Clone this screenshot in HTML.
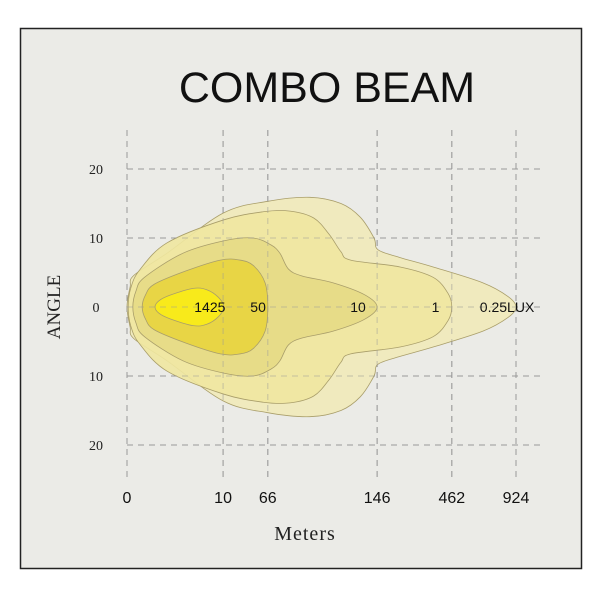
<!DOCTYPE html>
<html><head><meta charset="utf-8">
<style>
html,body{margin:0;padding:0;background:#fff;}
svg{display:block;}
</style></head>
<body>
<svg id="chart" width="600" height="600" viewBox="0 0 600 600" xmlns="http://www.w3.org/2000/svg">
<rect x="20.5" y="28.5" width="561" height="540" fill="#ebebe7" stroke="#222" stroke-width="1.5"/>
<text x="327" y="102" text-anchor="middle" font-family="Liberation Sans, sans-serif" font-size="43" fill="#111">COMBO  BEAM</text>
<g id="grid"></g>
<g id="contours"></g>
<g id="labels"></g>
<text transform="translate(60,307) rotate(-90)" text-anchor="middle" font-family="Liberation Serif, serif" font-size="19" fill="#222">ANGLE</text>
<text x="305" y="540" text-anchor="middle" font-family="Liberation Serif, serif" font-size="20" fill="#222" letter-spacing="1">Meters</text>
</svg>
<script>
const xTickLabels = ["0","10","66","146","462","924"];
const xTickPos = [0, 24.7, 36.2, 64.3, 83.5, 100];
const yTicks = [20, 10, 0, -10, -20];
const yTickLabels = ["20","10","0","10","20"];
const levelNames = ["0.25LUX","1","10","50","1425"];
const levelColors = ["#f1eab9","#f0e7a0","#e5da85","#e8d43e","#f9ec16"];
const c025 = [[0,0],[0.8,2.9],[1.8,4.6],[10.3,7.8],[24.7,13.6],[36,15.3],[47,15.9],[55,15],[60,13],[63.5,10],[64.5,8.3],[70,7.2],[78.7,5.8],[91.5,3.5],[98,1.5],[100,0]];
const c1 = [[0.3,0],[1,2.8],[3.3,5.4],[10.3,9.3],[24.7,12.6],[35,13.8],[41.9,13.9],[48,12.9],[52,10.5],[55,8],[57.5,6.8],[70.2,5.8],[78.7,4.3],[82.5,2],[83.5,0]];
const c10 = [[1.5,0],[2.3,2.3],[4.5,4.3],[14.4,7.8],[25,9.6],[32.4,10],[37,9],[39.3,7.8],[41.5,5.5],[45,4.5],[53,3.5],[61,1.8],[64.3,0]];
const c50 = [[3.9,0],[4.8,1.8],[7,3.3],[15,5.2],[24,6.8],[29,6.8],[32.5,6],[35.5,3.5],[36.2,0]];
const c1425 = [[7.2,0],[8.2,0.9],[11,1.7],[17,2.7],[20.5,2.5],[23.5,1.4],[24.9,0]];
const labelPos = [97.7, 79.3, 59.4, 33.7, 21.3];

const NS="http://www.w3.org/2000/svg";
const X0=127, X1=516, Y0=307, DEG=6.9;
const sx = u => X0 + (X1-X0)*u/100;
const sy = d => Y0 - d*DEG;

const grid=document.getElementById('grid');
yTicks.forEach((t,i)=>{
  const l=document.createElementNS(NS,'line');
  
  
  l.setAttribute('x1',X0);l.setAttribute('x2',545);l.setAttribute('y1',sy(t));l.setAttribute('y2',sy(t));
  l.setAttribute('stroke','#999');l.setAttribute('stroke-dasharray','6,5');
  grid.appendChild(l);
  const tx=document.createElementNS(NS,'text');
  
  
  tx.setAttribute('x',96);tx.setAttribute('y',sy(t)+5);tx.setAttribute('text-anchor','middle');
  tx.setAttribute('font-family','Liberation Serif, serif');tx.setAttribute('font-size','14');tx.setAttribute('fill','#222');
  tx.textContent=yTickLabels[i];grid.appendChild(tx);
});
xTickPos.forEach((u,i)=>{
  const l=document.createElementNS(NS,'line');
  
  
  l.setAttribute('x1',sx(u));l.setAttribute('x2',sx(u));l.setAttribute('y1',130);l.setAttribute('y2',478);
  l.setAttribute('stroke','#999');l.setAttribute('stroke-dasharray','6,5');
  grid.appendChild(l);
  const tx=document.createElementNS(NS,'text');
  
  
  tx.setAttribute('x',sx(u));tx.setAttribute('y',503);tx.setAttribute('text-anchor','middle');
  tx.setAttribute('font-family','Liberation Sans, sans-serif');tx.setAttribute('font-size','16');tx.setAttribute('fill','#111');
  tx.textContent=xTickLabels[i];grid.appendChild(tx);
});

function pathFor(c){
  const top=c.map(p=>[sx(p[0]),sy(p[1])]);
  const bot=c.slice(1,-1).reverse().map(p=>[sx(p[0]),sy(-p[1])]);
  const pts=top.concat(bot);const n=pts.length;
  let d='M'+pts[0][0]+','+pts[0][1];
  for(let i=0;i<n;i++){
    const p0=pts[(i-1+n)%n],p1=pts[i],p2=pts[(i+1)%n],p3=pts[(i+2)%n];
    const c1x=p1[0]+(p2[0]-p0[0])/6,c1y=p1[1]+(p2[1]-p0[1])/6;
    const c2x=p2[0]-(p3[0]-p1[0])/6,c2y=p2[1]-(p3[1]-p1[1])/6;
    d+=' C'+c1x+','+c1y+' '+c2x+','+c2y+' '+p2[0]+','+p2[1];
  }
  return d+'Z';
}
const cg=document.getElementById('contours');
[c025,c1,c10,c50,c1425].forEach((c,i)=>{
  const p=document.createElementNS(NS,'path');
  
  
  p.setAttribute('d',pathFor(c));
  p.setAttribute('fill',levelColors[i]);p.setAttribute('fill-opacity','0.9');
  p.setAttribute('stroke','#a99e6a');p.setAttribute('stroke-width','0.8');
  cg.appendChild(p);
});
const lg=document.getElementById('labels');
levelNames.forEach((n,i)=>{
  const tx=document.createElementNS(NS,'text');
  
  
  tx.setAttribute('x',sx(labelPos[i]));tx.setAttribute('y',Y0+5);tx.setAttribute('text-anchor','middle');
  tx.setAttribute('font-family','Liberation Sans, sans-serif');tx.setAttribute('font-size','14');tx.setAttribute('fill','#111');
  tx.textContent=n;lg.appendChild(tx);
});
const overlay=grid.cloneNode(true);

overlay.setAttribute('opacity','0.5');
overlay.querySelectorAll('text').forEach(t=>t.remove());
document.getElementById('chart').insertBefore(overlay,lg);
</script>
</body></html>
